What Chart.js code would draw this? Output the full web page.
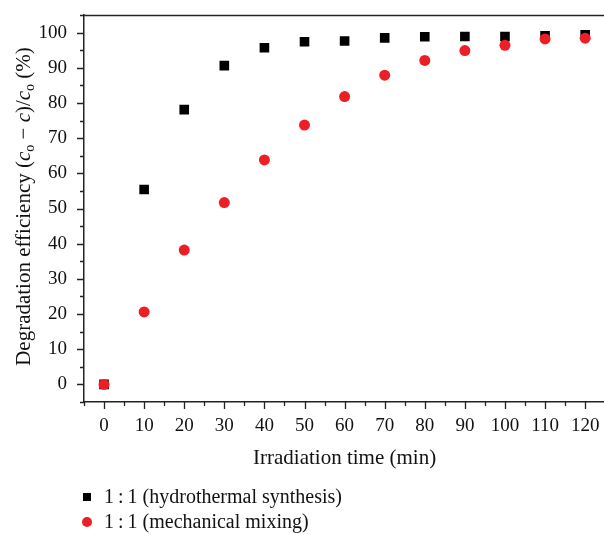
<!DOCTYPE html>
<html>
<head>
<meta charset="utf-8">
<script src="https://cdn.jsdelivr.net/npm/chart.js@4"></script>
<style>
  html, body { margin: 0; padding: 0; background: #fff; overflow: hidden; }
  #wrap { position: absolute; left: 0; top: 0; width: 612px; height: 535px; }
</style>
</head>
<body>
<div id="wrap"><canvas id="chart" width="612" height="535"></canvas></div>
<script>
const times = [0, 10, 20, 30, 40, 50, 60, 70, 80, 90, 100, 110, 120];
const hydrothermal = [0, 55.4, 78.1, 90.6, 95.7, 97.4, 97.6, 98.5, 98.8, 98.9, 98.9, 99.1, 99.4];
const mechanical = [0, 20.6, 38.2, 51.7, 63.8, 73.7, 81.8, 87.9, 92.1, 94.9, 96.4, 98.2, 98.4];
const seriesNames = ['1\u2009:\u20091 (hydrothermal synthesis)', '1\u2009:\u20091 (mechanical mixing)'];
const xTitle = 'Irradiation time (min)';

const SERIF = '"Liberation Serif", "Times New Roman", serif';
const AXIS = '#222';
const TEXT = '#111';

function toPoints(ys) {
    return times.map((t, i) => ({ x: t, y: ys[i] }));
}

// tick marks: long on every 10, short on the 5s in between
const tickMarks = {
    id: 'tickMarks',
    afterDraw(chart) {
        const ctx = chart.ctx;
        const area = chart.chartArea;
        const xs = chart.scales.x;
        const ys = chart.scales.y;
        ctx.save();
        ctx.strokeStyle = AXIS;
        ctx.lineWidth = 1.3;
        ctx.beginPath();
        xs.ticks.forEach(t => {
            const px = Math.round(xs.getPixelForValue(t.value)) + 0.5;
            const len = t.value % 10 === 0 ? 7 : 4;
            ctx.moveTo(px, area.bottom);
            ctx.lineTo(px, area.bottom + len);
        });
        ys.ticks.forEach(t => {
            const py = Math.round(ys.getPixelForValue(t.value)) + 0.5;
            const len = t.value % 10 === 0 ? 7 : 4;
            ctx.moveTo(area.left, py);
            ctx.lineTo(area.left - len, py);
        });
        // frame line across the top
        ctx.moveTo(area.left, area.top + 0.5);
        ctx.lineTo(area.right, area.top + 0.5);
        ctx.stroke();
        ctx.restore();
    }
};

// axis titles; the y one has italic c and subscript o
const axisTitles = {
    id: 'axisTitles',
    afterDraw(chart) {
        const ctx = chart.ctx;
        const area = chart.chartArea;
        const big = 21, small = 14;
        const reg = big + 'px ' + SERIF;
        const ital = 'italic ' + big + 'px ' + SERIF;
        const sub = small + 'px ' + SERIF;
        const parts = [
            { t: 'Degradation efficiency (', f: reg, dy: 0 },
            { t: 'c', f: ital, dy: 0 },
            { t: 'o', f: sub, dy: 4 },
            { t: ' \u2212 ', f: reg, dy: 0 },
            { t: 'c', f: ital, dy: 0 },
            { t: ')/', f: reg, dy: 0 },
            { t: 'c', f: ital, dy: 0 },
            { t: 'o', f: sub, dy: 4 },
            { t: ' (%)', f: reg, dy: 0 }
        ];
        ctx.save();
        ctx.fillStyle = TEXT;
        ctx.textBaseline = 'alphabetic';

        ctx.font = reg;
        ctx.textAlign = 'center';
        ctx.fillText(xTitle, (area.left + area.right) / 2, 464);

        ctx.textAlign = 'left';
        let total = 0;
        parts.forEach(p => { ctx.font = p.f; p.w = ctx.measureText(p.t).width; total += p.w; });
        ctx.translate(30, (area.top + area.bottom) / 2 - 2);
        ctx.rotate(-Math.PI / 2);
        let x = -total / 2;
        parts.forEach(p => {
            ctx.font = p.f;
            ctx.fillText(p.t, x, p.dy);
            x += p.w;
        });
        ctx.restore();
    }
};

// legend stacked under the x axis title
const stackedLegend = {
    id: 'stackedLegend',
    afterDraw(chart) {
        const ctx = chart.ctx;
        ctx.save();
        ctx.font = '20px ' + SERIF;
        ctx.textBaseline = 'middle';
        const rows = [497, 522];
        chart.data.datasets.forEach((ds, i) => {
            const y = rows[i];
            ctx.fillStyle = ds.backgroundColor;
            ctx.beginPath();
            if (ds.pointStyle === 'rect') {
                ctx.rect(83, y - 4, 8, 8);
            } else {
                ctx.arc(87, y, 5, 0, Math.PI * 2);
            }
            ctx.fill();
            ctx.fillStyle = TEXT;
            ctx.fillText(ds.label, 104, y + 1);
        });
        ctx.restore();
    }
};

new Chart(document.getElementById('chart'), {
    type: 'scatter',
    data: {
        datasets: [
            {
                label: seriesNames[0],
                data: toPoints(hydrothermal),
                pointStyle: 'rect',
                pointRadius: 6.8,
                backgroundColor: '#000',
                borderColor: '#000',
                borderWidth: 0,
                order: 1
            },
            {
                label: seriesNames[1],
                data: toPoints(mechanical),
                pointStyle: 'circle',
                pointRadius: 5.5,
                backgroundColor: '#ec1f27',
                borderColor: '#ec1f27',
                borderWidth: 0,
                order: 0
            }
        ]
    },
    options: {
        responsive: false,
        animation: false,
        layout: { padding: { top: 15, right: 1, left: 0, bottom: 0 } },
        plugins: {
            legend: { display: false },
            tooltip: { enabled: false }
        },
        scales: {
            x: {
                type: 'linear',
                min: -5,
                max: 125,
                afterFit(scale) {
                    scale.height = 133;
                    scale.paddingLeft = 0;
                    scale.paddingRight = 0;
                },
                grid: { drawOnChartArea: false, color: 'transparent', tickLength: 7 },
                border: { display: true, color: AXIS, width: 1.5 },
                ticks: {
                    stepSize: 5,
                    autoSkip: false,
                    maxRotation: 0,
                    padding: 6,
                    color: TEXT,
                    font: { family: SERIF, size: 19 },
                    callback: v => (v % 10 === 0 && v >= 0 && v <= 120) ? String(v) : ''
                }
            },
            y: {
                type: 'linear',
                min: -5,
                max: 105,
                afterFit(scale) {
                    scale.width = 84;
                    scale.paddingTop = 0;
                    scale.paddingBottom = 0;
                },
                grid: { drawOnChartArea: false, color: 'transparent', tickLength: 7 },
                border: { display: true, color: AXIS, width: 1.5 },
                ticks: {
                    stepSize: 5,
                    autoSkip: false,
                    padding: 10,
                    color: TEXT,
                    font: { family: SERIF, size: 19 },
                    callback: v => (v % 10 === 0 && v >= 0 && v <= 100) ? String(v) : ''
                }
            }
        }
    },
    plugins: [tickMarks, axisTitles, stackedLegend]
});
</script>
</body>
</html>
